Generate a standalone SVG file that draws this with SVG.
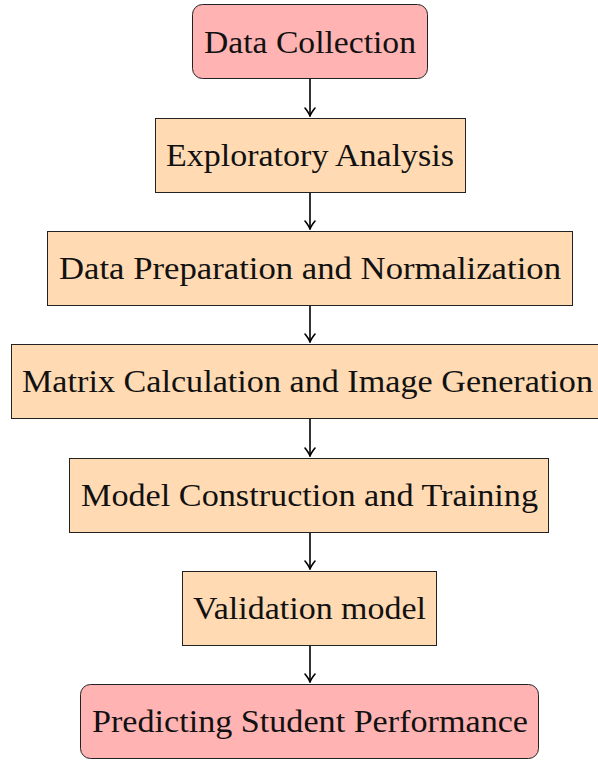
<svg xmlns="http://www.w3.org/2000/svg" width="598" height="760" viewBox="0 0 598 760">
<style>
.pink{fill:#FFB3B3;stroke:#222;stroke-width:1}
.peach{fill:#FFDAB3;stroke:#222;stroke-width:1}
text{font-family:"Liberation Serif","DejaVu Serif",serif;font-size:31px;fill:#111;text-anchor:middle}
.c{stroke:#000;stroke-width:1.6;fill:none}
</style>
<defs>
<marker id="ah" viewBox="-8 -6 10 12" markerWidth="10" markerHeight="12" refX="1" refY="0" orient="auto" markerUnits="userSpaceOnUse">
<path d="M-7,-5 Q-2,-1 1,0 Q-2,1 -7,5" fill="none" stroke="#000" stroke-width="1.6" stroke-linecap="round"/>
</marker>
</defs>
<rect width="598" height="760" fill="#fff"/>
<g id="connectors">
<line class="c" x1="310" y1="79" x2="310" y2="116" marker-end="url(#ah)"/>
<line class="c" x1="310" y1="192" x2="310" y2="229" marker-end="url(#ah)"/>
<line class="c" x1="310" y1="306" x2="310" y2="342" marker-end="url(#ah)"/>
<line class="c" x1="310" y1="419" x2="310" y2="456" marker-end="url(#ah)"/>
<line class="c" x1="310" y1="533" x2="310" y2="569" marker-end="url(#ah)"/>
<line class="c" x1="310" y1="646" x2="310" y2="682" marker-end="url(#ah)"/>
</g>
<g id="n1"><rect class="pink" x="192.5" y="4.5" width="235" height="74" rx="10"/><text x="310" y="53" textLength="212" lengthAdjust="spacingAndGlyphs">Data Collection</text></g>
<g id="n2"><rect class="peach" x="155.5" y="118.5" width="310" height="74"/><text x="310" y="166" textLength="288" lengthAdjust="spacingAndGlyphs">Exploratory Analysis</text></g>
<g id="n3"><rect class="peach" x="47.5" y="231.5" width="525" height="74"/><text x="310" y="279" textLength="502" lengthAdjust="spacingAndGlyphs">Data Preparation and Normalization</text></g>
<g id="n4"><rect class="peach" x="11.5" y="344.5" width="600" height="74"/><text x="307.5" y="392" textLength="571" lengthAdjust="spacingAndGlyphs">Matrix Calculation and Image Generation</text></g>
<g id="n5"><rect class="peach" x="69.5" y="458.5" width="479" height="74"/><text x="309.5" y="506" textLength="457" lengthAdjust="spacingAndGlyphs">Model Construction and Training</text></g>
<g id="n6"><rect class="peach" x="182.5" y="571.5" width="254" height="74"/><text x="309.5" y="619" textLength="233" lengthAdjust="spacingAndGlyphs">Validation model</text></g>
<g id="n7"><rect class="pink" x="80.5" y="684.5" width="458" height="74" rx="10"/><text x="310" y="732" textLength="436" lengthAdjust="spacingAndGlyphs">Predicting Student Performance</text></g>
</svg>
